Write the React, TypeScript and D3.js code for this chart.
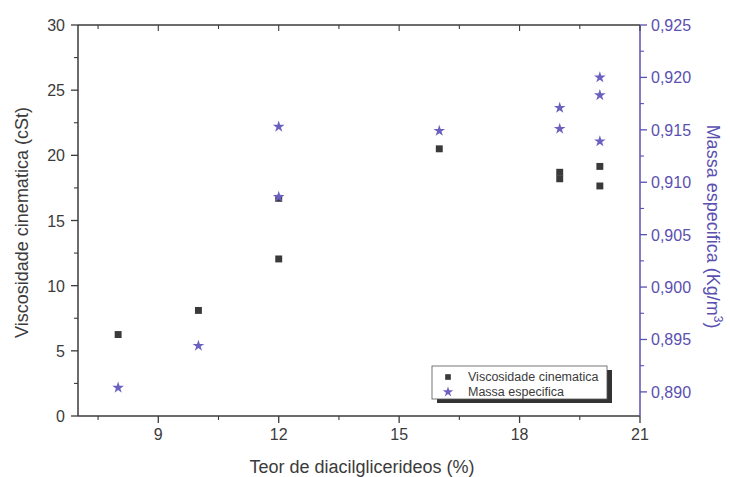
import React from "react";
import * as d3 from "d3";

// Diacylglyceride content (%) for each measurement
const viscX = [8, 10, 12, 12, 16, 19, 19, 20, 20];
// Kinematic viscosity (cSt)
const viscY = [6.25, 8.1, 12.05, 16.7, 20.5, 18.7, 18.2, 19.15, 17.65];

const densX = [8, 10, 12, 12, 16, 19, 19, 20, 20, 20];
// Specific mass (Kg/m3)
const densY = [0.8904, 0.8944, 0.9153, 0.9086, 0.9149, 0.9171, 0.9151, 0.92, 0.9183, 0.9139];

const xTicks = [9, 12, 15, 18, 21];
const leftTicks = [0, 5, 10, 15, 20, 25, 30];
const rightTicks = [0.89, 0.895, 0.9, 0.905, 0.91, 0.915, 0.92, 0.925];

const legendLabels = ["Viscosidade cinematica", "Massa especifica"];

const W = 730;
const H = 477;
const M = { left: 78, right: 640, top: 25, bottom: 416 };

const FONT = "'Liberation Sans', Arial, sans-serif";
const INK = "#3b3b3b";
const SQUARE = "#3a3a3a";
const STAR = "#6a60c0";
const PURPLE = "#5a50b0";

export default function App() {
  const x = d3.scaleLinear().domain([7, 21]).range([M.left, M.right]);
  const yL = d3.scaleLinear().domain([0, 30]).range([M.bottom, M.top]);
  const yR = d3.scaleLinear().domain([0.8877, 0.925]).range([M.bottom, M.top]);

  const squarePath = d3.symbol().type(d3.symbolSquare).size(48)() as string;
  const starPath = d3.symbol().type(d3.symbolStar).size(42)() as string;
  const legendSquare = d3.symbol().type(d3.symbolSquare).size(32)() as string;
  const legendStar = d3.symbol().type(d3.symbolStar).size(34)() as string;

  const xMinor = d3.range(7.5, 21, 1.5).filter((v) => !xTicks.includes(v));
  const leftMinor = d3.range(2.5, 30, 5);
  const rightMinor = d3.range(0.8875, 0.925, 0.005).filter((v) => v > 0.8877);

  const fmtR = (v: number) => v.toFixed(3).replace(".", ",");

  return (
    <svg
      width={W}
      height={H}
      style={{ position: "absolute", left: 0, top: 0, background: "#fff" }}
      fontFamily={FONT}
    >
      {/* frame: bottom, left, top */}
      <line x1={M.left} x2={M.right} y1={M.bottom} y2={M.bottom} stroke={INK} strokeWidth={1.5} />
      <line x1={M.left} x2={M.left} y1={M.top} y2={M.bottom} stroke={INK} strokeWidth={1.5} />
      <line x1={M.left} x2={M.right} y1={M.top} y2={M.top} stroke={INK} strokeWidth={1.5} />
      {/* right axis */}
      <line x1={M.right} x2={M.right} y1={M.top} y2={M.bottom} stroke={PURPLE} strokeWidth={1.5} />

      {/* bottom axis ticks & labels */}
      {xTicks.map((t) => (
        <g key={"xt" + t}>
          <line x1={x(t)} x2={x(t)} y1={M.bottom} y2={M.bottom + 7} stroke={INK} strokeWidth={1.3} />
          <line x1={x(t)} x2={x(t)} y1={M.top} y2={M.top + 6} stroke={INK} strokeWidth={1.1} />
          <text x={x(t)} y={M.bottom + 24} textAnchor="middle" fontSize={16} fill={INK}>
            {t}
          </text>
        </g>
      ))}
      {xMinor.map((t) => (
        <g key={"xm" + t}>
          <line x1={x(t)} x2={x(t)} y1={M.bottom} y2={M.bottom + 4} stroke={INK} strokeWidth={1.1} />
          <line x1={x(t)} x2={x(t)} y1={M.top} y2={M.top + 4} stroke={INK} strokeWidth={1.1} />
        </g>
      ))}

      {/* left axis ticks & labels */}
      {leftTicks.map((t) => (
        <g key={"lt" + t}>
          <line x1={M.left - 7} x2={M.left} y1={yL(t)} y2={yL(t)} stroke={INK} strokeWidth={1.3} />
          <text x={M.left - 13} y={yL(t) + 6} textAnchor="end" fontSize={16} fill={INK}>
            {t}
          </text>
        </g>
      ))}
      {leftMinor.map((t) => (
        <line key={"lm" + t} x1={M.left - 4} x2={M.left} y1={yL(t)} y2={yL(t)} stroke={INK} strokeWidth={1.1} />
      ))}

      {/* right axis ticks & labels */}
      {rightTicks.map((t) => (
        <g key={"rt" + t}>
          <line x1={M.right} x2={M.right + 7} y1={yR(t)} y2={yR(t)} stroke={PURPLE} strokeWidth={1.3} />
          <text x={M.right + 11} y={yR(t) + 6} textAnchor="start" fontSize={16} fill={PURPLE}>
            {fmtR(t)}
          </text>
        </g>
      ))}
      {rightMinor.map((t) => (
        <line key={"rm" + t} x1={M.right} x2={M.right + 4} y1={yR(t)} y2={yR(t)} stroke={PURPLE} strokeWidth={1.1} />
      ))}

      {/* axis titles */}
      <text
        transform={`translate(28, ${(M.top + M.bottom) / 2 + 2}) rotate(-90)`}
        textAnchor="middle"
        fontSize={18}
        fill={INK}
      >
        Viscosidade cinematica (cSt)
      </text>
      <text
        transform={`translate(707, ${(M.top + M.bottom) / 2 + 6}) rotate(90)`}
        textAnchor="middle"
        fontSize={18}
        fill={PURPLE}
      >
        Massa especifica (Kg/m<tspan dy={-7} fontSize={12}>3</tspan>
        <tspan dy={7}>)</tspan>
      </text>
      <text x={362} y={473} textAnchor="middle" fontSize={18} fill={INK}>
        Teor de diacilglicerideos (%)
      </text>

      {/* kinematic viscosity markers */}
      {viscX.map((v, i) => (
        <path key={"sq" + i} d={squarePath} transform={`translate(${x(v)},${yL(viscY[i])})`} fill={SQUARE} />
      ))}
      {/* specific mass markers */}
      {densX.map((v, i) => (
        <path key={"st" + i} d={starPath} transform={`translate(${x(v)},${yR(densY[i])})`} fill={STAR} />
      ))}

      {/* legend with drop shadow */}
      <rect x={437} y={370} width={175} height={33} fill="#333" />
      <rect x={432} y={366} width={175} height={33} fill="#fff" stroke="#555" strokeWidth={0.8} />
      <path d={legendSquare} transform="translate(448,377)" fill={SQUARE} />
      <text x={468} y={381} fontSize={12.5} fill={INK}>
        {legendLabels[0]}
      </text>
      <path d={legendStar} transform="translate(448,392)" fill={STAR} />
      <text x={468} y={396} fontSize={12.5} fill={INK}>
        {legendLabels[1]}
      </text>
    </svg>
  );
}
